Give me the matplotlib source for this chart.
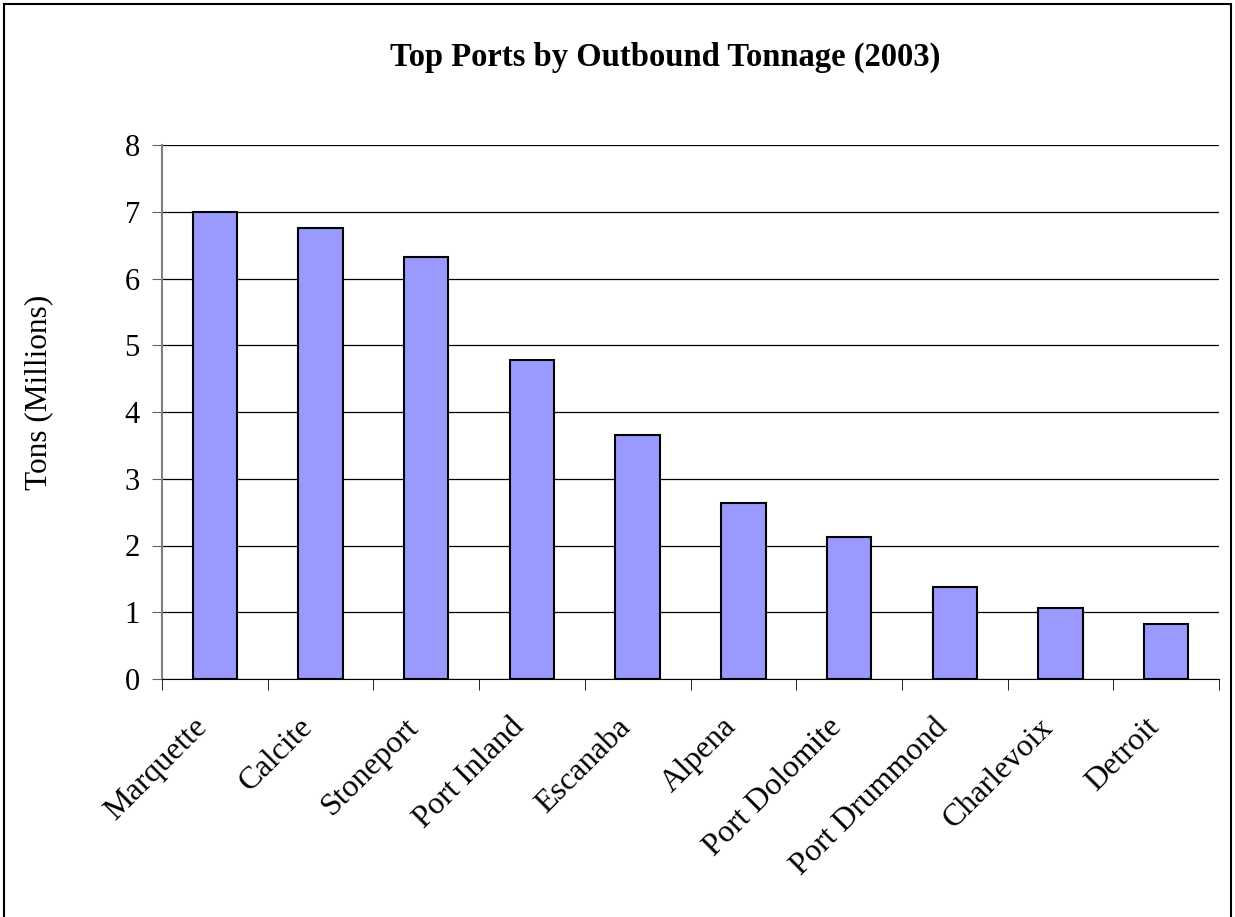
import numpy as np
import matplotlib.pyplot as plt
import matplotlib.transforms as mtransforms
from matplotlib.patches import Rectangle

# data
ports = ['Marquette', 'Calcite', 'Stoneport', 'Port Inland', 'Escanaba',
         'Alpena', 'Port Dolomite', 'Port Drummond', 'Charlevoix', 'Detroit']
tons = [7.0, 6.76, 6.32, 4.78, 3.66, 2.64, 2.13, 1.38, 1.06, 0.82]
yticks = [0, 1, 2, 3, 4, 5, 6, 7, 8]

plt.rcParams['font.family'] = ['Liberation Serif', 'DejaVu Serif']

fig = plt.figure(figsize=(12.35, 9.17), dpi=100)
ax = fig.add_axes([162/1235, 1 - 679/917, (1219-162)/1235, (679-145)/917])

x = np.arange(len(ports))
ax.bar(x, tons, width=0.42, color='#9999FF', edgecolor='black', linewidth=1.5, zorder=3)

ax.set_xlim(-0.5, len(ports) - 0.5)
ax.set_ylim(0, 8)
ax.set_yticks(yticks)
ax.tick_params(axis='y', labelsize=22, length=7, direction='out', color='#606060', pad=9)
ax.grid(axis='y', color='black', linewidth=0.9, zorder=1)

# category labels, tick marks between categories
ax.set_xticks(x)
ax.set_xticklabels(ports, rotation=45, ha='right', va='top', rotation_mode='anchor', fontsize=23)
ax.tick_params(axis='x', length=0, pad=14)
ax.set_xticks(np.arange(len(ports) + 1) - 0.5, minor=True)
ax.tick_params(axis='x', which='minor', length=8, color='black')

# shift rotated labels down-left like the original
offset = mtransforms.ScaledTranslation(-22/100, -14/100, fig.dpi_scale_trans)
for lab in ax.get_xticklabels():
    lab.set_transform(lab.get_transform() + offset)

for s in ['top', 'right']:
    ax.spines[s].set_visible(False)
ax.spines['left'].set_color('#808080')
ax.spines['left'].set_linewidth(1.5)
ax.spines['bottom'].set_color('black')

ax.set_ylabel('Tons (Millions)', fontsize=22.5)
ax.yaxis.set_label_coords(-0.103, 0.537)
fig.text(0.539, 1 - 57/917, 'Top Ports by Outbound Tonnage (2003)', ha='center', va='center',
         fontsize=23.5, fontweight='bold')

# outer frame
fig.patches.append(Rectangle((4/1235, -0.01), 1227/1235, 1 - 4/917 + 0.01, transform=fig.transFigure,
                             fill=False, edgecolor='black', linewidth=1.5))

fig.savefig('out.png', dpi=100)
